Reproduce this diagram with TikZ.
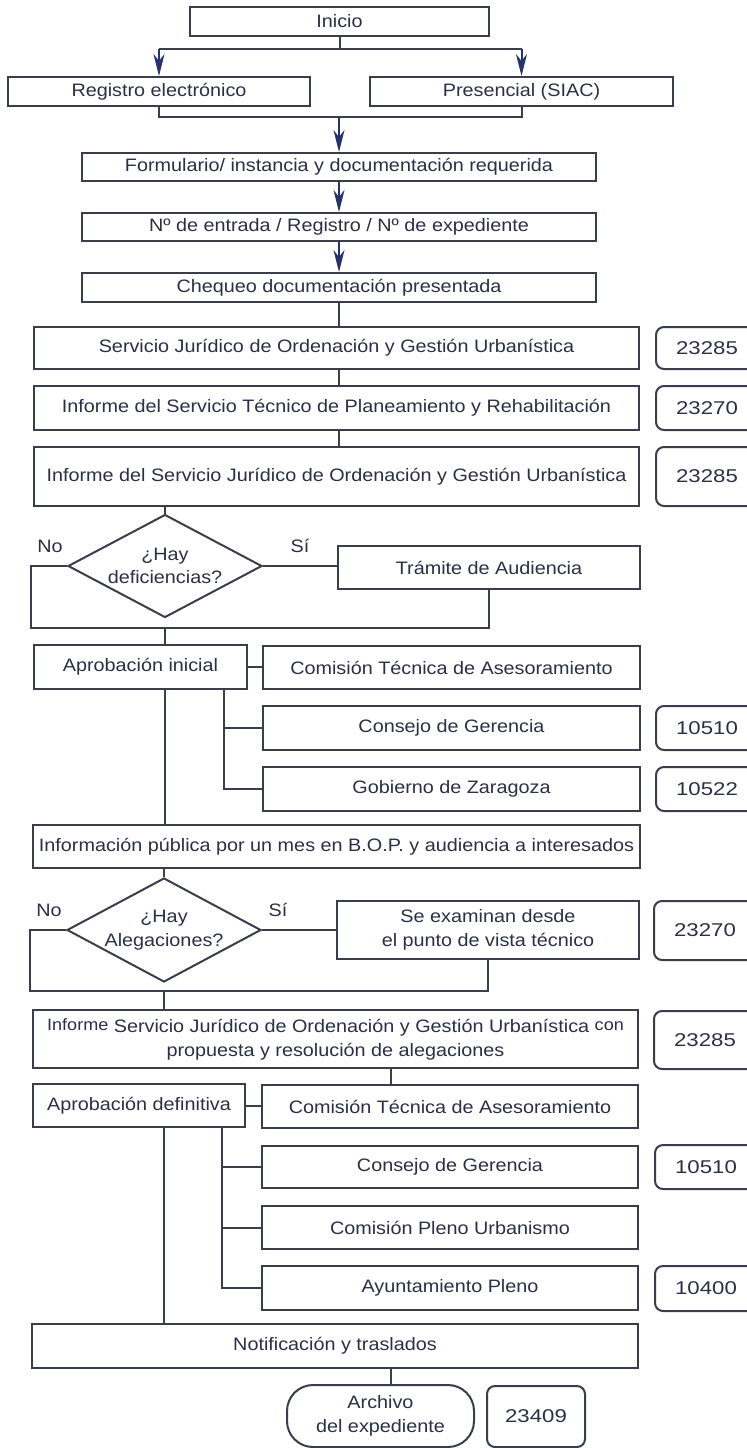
\documentclass[tikz,border=0pt]{standalone}
\usepackage{fontspec}
\setmainfont[FakeStretch=1.1]{Liberation Sans}
\newfontfamily\numfont[FakeStretch=1.2]{Liberation Sans}
\usetikzlibrary{arrows.meta,shapes.geometric}
\definecolor{linec}{HTML}{3A3E4C}
\definecolor{txtc}{HTML}{2A3045}
\definecolor{arrc}{HTML}{27336E}
\newcommand\txtfont{\fontsize{9pt}{11.75pt}\selectfont}
\newcommand\upword[1]{\raisebox{1.2pt}{\fontsize{8.2pt}{9pt}\selectfont #1}}
\tikzset{
  box/.style={draw=linec, line width=1pt, fill=white, inner sep=0pt,
    align=center, text=txtc, font=\txtfont},
  numbox/.style={box, rounded corners=4pt,
    font=\numfont\fontsize{9.25pt}{11pt}\selectfont},
  decision/.style={diamond, aspect=1.88, draw=linec, line width=1pt, fill=white,
    inner sep=0pt, align=center, text=txtc, font=\txtfont},
  terminal/.style={box, rounded corners=13pt},
  link/.style={draw=linec, line width=1pt},
  flow/.style={draw=arrc, line width=1pt,
    -{Stealth[length=11pt,width=5.5pt,inset=3.5pt]}},
  lbl/.style={text=txtc, font=\txtfont, inner sep=0pt},
}
\begin{document}
\begin{tikzpicture}[x=0.5pt,y=-0.5pt]
\useasboundingbox (0,0) rectangle (747,1448);
\clip (0,0) rectangle (747,1448);

% --- entry ---
\node[box, minimum width=149.5pt, minimum height=14.5pt] (ini) at (339.5,21.5) {Inicio};
\node[box, minimum width=151pt, minimum height=14.5pt] (reg) at (159,91.5) {Registro electrónico};
\node[box, minimum width=151.5pt, minimum height=14.5pt] (pre) at (521.5,91.5) {Presencial (SIAC)};
\node[box, minimum width=257pt, minimum height=14pt] (form) at (339,167) {Formulario/ instancia y documentación requerida};
\node[box, minimum width=257pt, minimum height=14pt] (nent) at (339,227) {Nº de entrada / Registro / Nº de expediente};
\node[box, minimum width=257pt, minimum height=14.5pt] (cheq) at (339,287.5) {Chequeo documentación presentada};

% --- reports ---
\node[box, minimum width=302.5pt, minimum height=21pt] (serv) at (336.5,348) {Servicio Jurídico de Ordenación y Gestión Urbanística};
\node[box, minimum width=302.5pt, minimum height=22pt] (itec) at (336.5,408) {Informe del Servicio Técnico de Planeamiento y Rehabilitación};
\node[box, minimum width=302.5pt, minimum height=29.5pt] (ijur) at (336.5,476.5) {Informe del Servicio Jurídico de Ordenación y Gestión Urbanística};
\node[numbox, minimum width=51pt, minimum height=21pt] (n1) at (707,348) {23285};
\node[numbox, minimum width=51pt, minimum height=22pt] (n2) at (707,408) {23270};
\node[numbox, minimum width=51pt, minimum height=29.5pt] (n3) at (707,476.5) {23285};

% --- deficiencies ---
\node[decision, minimum width=97pt, minimum height=51.5pt] (dia1) at (165,566) {¿Hay\\deficiencias?};
\node[box, minimum width=151pt, minimum height=21.5pt] (tram) at (489,567.5) {Trámite de Audiencia};
\node[lbl] (no1) at (50,546) {No};
\node[lbl] (si1) at (300,546) {Sí};

% --- initial approval ---
\node[box, minimum width=106.5pt, minimum height=22pt] (apro) at (140.5,667) {Aprobación inicial};
\node[box, minimum width=188.5pt, minimum height=21.5pt] (com1) at (451.5,667.5) {Comisión Técnica de Asesoramiento};
\node[box, minimum width=188.5pt, minimum height=22pt] (cons1) at (451.5,728) {Consejo de Gerencia};
\node[box, minimum width=188.5pt, minimum height=22pt] (gob) at (451.5,789) {Gobierno de Zaragoza};
\node[numbox, minimum width=51pt, minimum height=22pt] (n4) at (707,728) {10510};
\node[numbox, minimum width=51pt, minimum height=22pt] (n5) at (707,789) {10522};

% --- public information ---
\node[box, minimum width=303.5pt, minimum height=21.5pt] (info) at (336.5,846.5) {Información pública por un mes en B.O.P. y audiencia a interesados};
\node[decision, minimum width=97pt, minimum height=52pt] (dia2) at (164,930) {¿Hay\\Alegaciones?};
\node[box, minimum width=151pt, minimum height=29pt] (sexa) at (488,930) {Se examinan desde\\el punto de vista técnico};
\node[numbox, minimum width=51pt, minimum height=29.5pt] (n6) at (705,930.5) {23270};
\node[lbl] (no2) at (49,910) {No};
\node[lbl] (si2) at (278,910) {Sí};
\node[box, minimum width=302.5pt, minimum height=29pt] (iprop) at (335.5,1039) {\upword{Informe} Servicio Jurídico de Ordenación y Gestión Urbanística \upword{con}\\propuesta y resolución de alegaciones};
\node[numbox, minimum width=51pt, minimum height=29pt] (n7) at (705,1040) {23285};

% --- final approval ---
\node[box, minimum width=106pt, minimum height=21.5pt] (aprd) at (139,1105.5) {Aprobación definitiva};
\node[box, minimum width=188pt, minimum height=21.5pt] (com2) at (450,1106.5) {Comisión Técnica de Asesoramiento};
\node[box, minimum width=188pt, minimum height=21pt] (cons2) at (450,1167) {Consejo de Gerencia};
\node[box, minimum width=188pt, minimum height=21.5pt] (cple) at (450,1227.5) {Comisión Pleno Urbanismo};
\node[box, minimum width=188pt, minimum height=22pt] (ayto) at (450,1288) {Ayuntamiento Pleno};
\node[numbox, minimum width=51pt, minimum height=22pt] (n8) at (706,1167) {10510};
\node[numbox, minimum width=51pt, minimum height=22.5pt] (n9) at (706,1288.5) {10400};

% --- closing ---
\node[box, minimum width=303pt, minimum height=22pt] (noti) at (335,1346) {Notificación y traslados};
\node[terminal, minimum width=93.5pt, minimum height=31pt] (arch) at (380.5,1416) {Archivo\\del expediente};
\node[numbox, minimum width=49pt, minimum height=30.5pt] (n10) at (536,1416.5) {23409};

% --- connectors: entry ---
\coordinate (s1) at (339.5,49);
\coordinate (s2) at (340,117);
\draw[link] (ini.south) -- (s1);
\draw[link] (reg.north |- s1) -- (pre.north |- s1);
\draw[flow] (reg.north |- s1) -- (reg.north);
\draw[flow] (pre.north |- s1) -- (pre.north);
\draw[link] (reg.south) -- (reg.south |- s2) -- (pre.south |- s2) -- (pre.south);
\draw[flow] (form.north |- s2) -- (form.north);
\draw[flow] (form.south) -- (nent.north);
\draw[flow] (nent.south) -- (cheq.north);
\draw[link] (cheq.south) -- (cheq.south |- serv.north);
\draw[link] (cheq.south |- serv.south) -- (cheq.south |- itec.north);
\draw[link] (cheq.south |- itec.south) -- (cheq.south |- ijur.north);

% --- connectors: deficiencies loop ---
\coordinate (l1) at (31,628);
\draw[link] (ijur.south -| dia1.north) -- (dia1.north);
\draw[link] (dia1.west) -- (dia1.west -| l1) -- (l1) -- (l1 -| tram.south) -- (tram.south);
\draw[link] (dia1.east) -- (dia1.east -| tram.west);
\draw[link] (dia1.south |- l1) -- (dia1.south |- apro.north);

% --- connectors: initial approval ---
\coordinate (b1) at (224,689);
\draw[link] (apro.east) -- (apro.east -| com1.west);
\draw[link] (apro.south -| b1) -- (b1 |- gob.west) -- (gob.west);
\draw[link] (b1 |- cons1.west) -- (cons1.west);
\draw[link] (apro.south -| dia1.south) -- (info.north -| dia1.south);

% --- connectors: allegations loop ---
\coordinate (l2) at (30,991);
\draw[link] (info.south -| dia2.north) -- (dia2.north);
\draw[link] (dia2.west) -- (dia2.west -| l2) -- (l2) -- (l2 -| sexa.south) -- (sexa.south);
\draw[link] (dia2.east) -- (dia2.east -| sexa.west);
\draw[link] (dia2.south |- l2) -- (dia2.south |- iprop.north);

% --- connectors: final approval and closing ---
\coordinate (m1) at (391,1068);
\coordinate (b2) at (222,1127);
\draw[link] (iprop.south -| m1) -- (com2.north -| m1);
\draw[link] (aprd.east) -- (aprd.east -| com2.west);
\draw[link] (aprd.south -| b2) -- (b2 |- ayto.west) -- (ayto.west);
\draw[link] (b2 |- cons2.west) -- (cons2.west);
\draw[link] (b2 |- cple.west) -- (cple.west);
\draw[link] (aprd.south -| dia2.south) -- (noti.north -| dia2.south);
\draw[link] (noti.south -| m1) -- (arch.north -| m1);
\end{tikzpicture}
\end{document}
